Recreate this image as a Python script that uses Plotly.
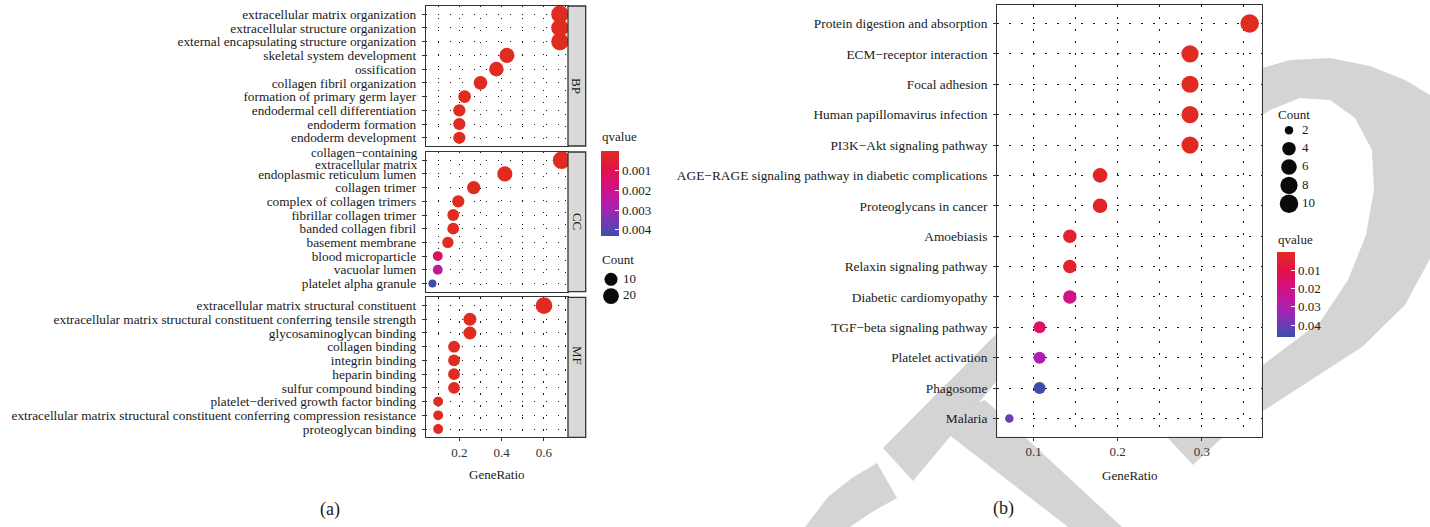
import plotly.graph_objects as go
import numpy as np

W, H = 1430, 527
FONT = "Liberation Serif"

# ---------------- data: GO (panel a) ----------------
bp_terms = ["extracellular matrix organization", "extracellular structure organization",
            "external encapsulating structure organization", "skeletal system development",
            "ossification", "collagen fibril organization", "formation of primary germ layer",
            "endodermal cell differentiation", "endoderm formation", "endoderm development"]
bp_ratio = [0.675, 0.675, 0.675, 0.425, 0.375, 0.300, 0.225, 0.200, 0.200, 0.200]
bp_count = [27, 27, 27, 17, 15, 12, 9, 8, 8, 8]
bp_q = [1.2e-20, 1.2e-20, 1.2e-20, 3.5e-10, 2.1e-9, 1.4e-8, 5.0e-7, 2.3e-6, 2.3e-6, 2.3e-6]

cc_terms = ["collagen\u2212containing<br>extracellular matrix", "endoplasmic reticulum lumen",
            "collagen trimer", "complex of collagen trimers", "fibrillar collagen trimer",
            "banded collagen fibril", "basement membrane", "blood microparticle",
            "vacuolar lumen", "platelet alpha granule"]
cc_ratio = [0.683, 0.415, 0.268, 0.195, 0.171, 0.171, 0.146, 0.098, 0.098, 0.073]
cc_count = [28, 17, 11, 8, 7, 7, 6, 4, 4, 3]
cc_q = [1e-22, 2e-12, 1e-11, 3e-10, 4e-9, 4e-9, 2e-6, 1.3e-3, 2.4e-3, 4.3e-3]

mf_terms = ["extracellular matrix structural constituent",
            "extracellular matrix structural constituent conferring tensile strength",
            "glycosaminoglycan binding", "collagen binding", "integrin binding", "heparin binding",
            "sulfur compound binding", "platelet\u2212derived growth factor binding",
            "extracellular matrix structural constituent conferring compression resistance",
            "proteoglycan binding"]
mf_ratio = [0.600, 0.250, 0.250, 0.175, 0.175, 0.175, 0.175, 0.100, 0.100, 0.100]
mf_count = [24, 10, 10, 7, 7, 7, 7, 4, 4, 4]
mf_q = [1e-24, 1e-14, 1e-9, 1e-7, 2e-6, 1e-5, 1e-5, 5e-5, 5e-5, 6e-5]

facet_labels = ["BP", "CC", "MF"]
left_q_ticks = [0.001, 0.002, 0.003, 0.004]
left_count_legend = [10, 20]

# ---------------- data: KEGG (panel b) ----------------
kegg_terms = ["Protein digestion and absorption", "ECM\u2212receptor interaction", "Focal adhesion",
              "Human papillomavirus infection", "PI3K\u2212Akt signaling pathway",
              "AGE\u2212RAGE signaling pathway in diabetic complications", "Proteoglycans in cancer",
              "Amoebiasis", "Relaxin signaling pathway", "Diabetic cardiomyopathy",
              "TGF\u2212beta signaling pathway", "Platelet activation", "Phagosome", "Malaria"]
kegg_ratio = [0.357, 0.286, 0.286, 0.286, 0.286, 0.179, 0.179, 0.143, 0.143, 0.143,
              0.107, 0.107, 0.107, 0.071]
kegg_count = [10, 8, 8, 8, 8, 5, 5, 4, 4, 4, 3, 3, 3, 2]
kegg_q = [2e-8, 1e-5, 4e-4, 5e-4, 8e-4, 1.8e-3, 2.6e-3, 3.5e-3, 3.0e-3, 2.1e-2,
          1.5e-2, 3.0e-2, 4.64e-2, 3.9e-2]
right_q_ticks = [0.01, 0.02, 0.03, 0.04]
right_count_legend = [2, 4, 6, 8, 10]

# ---------------- helpers ----------------
def px(x):
    return x / W

def py(y):
    return 1 - y / H

colorscale = [[0.0, "#3F4CA8"], [0.08, "#5644B2"], [0.31, "#A424B2"],
              [0.54, "#D0118C"], [0.77, "#E3104C"], [1.0, "#E02B20"]]

left_counts_all = bp_count + cc_count + mf_count
lmin, lmax = min(left_counts_all), max(left_counts_all)
rmin, rmax = min(kegg_count), max(kegg_count)

def size_left(c):
    c = np.asarray(c, float)
    return 8.0 + 9.5 * np.sqrt((c - lmin) / (lmax - lmin))

def size_right(c):
    c = np.asarray(c, float)
    return 8.5 + 10.0 * np.sqrt((c - rmin) / (rmax - rmin))

def neg(a):
    return [-v for v in a]

all_left_ratio = bp_ratio + cc_ratio + mf_ratio
lr0, lr1 = min(all_left_ratio), max(all_left_ratio)
lpad = 0.05 * (lr1 - lr0)
left_xrange = [lr0 - lpad, lr1 + lpad]
rr0, rr1 = min(kegg_ratio), max(kegg_ratio)
rpad = 0.05 * (rr1 - rr0)
right_xrange = [rr0 - rpad, rr1 + rpad]

fig = go.Figure()

panels = [(bp_terms, bp_ratio, bp_count, bp_q),
          (cc_terms, cc_ratio, cc_count, cc_q),
          (mf_terms, mf_ratio, mf_count, mf_q)]
for i, (t, r, c, q) in enumerate(panels):
    suffix = "" if i == 0 else str(i + 1)
    fig.add_trace(go.Scatter(
        x=r, y=t, mode="markers",
        marker=dict(size=size_left(c), color=neg(q), coloraxis="coloraxis",
                    line=dict(width=0), opacity=1),
        xaxis="x" + suffix, yaxis="y" + suffix, hoverinfo="skip"))

fig.add_trace(go.Scatter(
    x=kegg_ratio, y=kegg_terms, mode="markers",
    marker=dict(size=size_right(kegg_count), color=neg(kegg_q), coloraxis="coloraxis2",
                line=dict(width=0), opacity=1),
    xaxis="x4", yaxis="y4", hoverinfo="skip"))

LEGF = dict(family=FONT, size=13, color="#1a1a1a")
# size legends
lab_l = [str(v) for v in left_count_legend]
fig.add_trace(go.Scatter(x=[0.25] * len(lab_l), y=lab_l, mode="markers",
                         marker=dict(size=size_left(left_count_legend), color="#0a0a0a",
                                     line=dict(width=0), opacity=1),
                         xaxis="x5", yaxis="y5", hoverinfo="skip"))
fig.add_trace(go.Scatter(x=[0.55] * len(lab_l), y=lab_l, mode="text", text=lab_l,
                         textposition="middle right", textfont=LEGF,
                         xaxis="x5", yaxis="y5", hoverinfo="skip"))
lab_r = [str(v) for v in right_count_legend]
fig.add_trace(go.Scatter(x=[0.3] * len(lab_r), y=lab_r, mode="markers",
                         marker=dict(size=size_right(right_count_legend), color="#0a0a0a",
                                     line=dict(width=0), opacity=1),
                         xaxis="x6", yaxis="y6", hoverinfo="skip"))
fig.add_trace(go.Scatter(x=[0.625] * len(lab_r), y=lab_r, mode="text", text=lab_r,
                         textposition="middle right", textfont=LEGF,
                         xaxis="x6", yaxis="y6", hoverinfo="skip"))

DOT = "1.3px,10.7px"
GRIDC = "#1a1a1a"
LINEC = "#333333"

def xa(domain, rng, dtick, minor, show, anchor):
    return dict(domain=domain, range=rng, anchor=anchor, automargin=False, showline=True,
                mirror=True, linecolor=LINEC, linewidth=1.3, zeroline=False, showgrid=True,
                gridcolor=GRIDC, gridwidth=1, griddash=DOT, dtick=dtick, tick0=dtick,
                minor=dict(dtick=minor, tick0=minor, showgrid=True, gridcolor=GRIDC,
                           gridwidth=1, griddash=DOT),
                ticks="outside" if show else "", ticklen=3, tickcolor=LINEC,
                showticklabels=show, tickfont=dict(family=FONT, size=13, color="#333"),
                fixedrange=True)

def ya(domain, terms, size, anchor, ticktext=None):
    n = len(terms)
    return dict(domain=domain, anchor=anchor, automargin=False, type="category",
                categoryorder="array", categoryarray=terms, tickmode="array",
                tickvals=terms, ticktext=ticktext if ticktext is not None else terms,
                range=[n - 0.4, -0.6], showline=True, mirror=True,
                linecolor=LINEC, linewidth=1.3, zeroline=False, showgrid=True,
                gridcolor=GRIDC, gridwidth=1, griddash=DOT, ticks="outside", ticklen=3,
                ticklabelstandoff=3,
                tickcolor=LINEC, tickfont=dict(family=FONT, size=size, color="#1a1a1a"),
                fixedrange=True)

# multi-line CC label is drawn as separate tight lines (annotations)
cc_ticktext = ["" if "<br>" in t else t for t in cc_terms]

LX = [px(426), px(568)]
hidden = dict(visible=False, fixedrange=True, automargin=False)
fig.update_layout(
    xaxis=xa(LX, left_xrange, 0.2, 0.1, False, "y"),
    xaxis2=xa(LX, left_xrange, 0.2, 0.1, False, "y2"),
    xaxis3=xa(LX, left_xrange, 0.2, 0.1, True, "y3"),
    yaxis=ya([py(146), py(6)], bp_terms, 13.3, "x"),
    yaxis2=ya([py(291.7), py(152)], cc_terms, 13.3, "x2", cc_ticktext),
    yaxis3=ya([py(437.3), py(297.3)], mf_terms, 13.3, "x3"),
    xaxis4=xa([px(997.3), px(1261.7)], right_xrange, 0.1, 0.05, True, "y4"),
    yaxis4=ya([py(436.7), py(5.3)], kegg_terms, 13.4, "x4"),
    xaxis5=dict(domain=[px(601), px(641)], anchor="y5", range=[0, 1], **hidden),
    yaxis5=dict(domain=[py(304.4), py(271)], anchor="x5", type="category",
                categoryorder="array", categoryarray=lab_l,
                range=[len(lab_l) - 0.5, -0.5], **hidden),
    xaxis6=dict(domain=[px(1277), px(1317)], anchor="y6", range=[0, 1], **hidden),
    yaxis6=dict(domain=[py(212.9), py(121.1)], anchor="x6", type="category",
                categoryorder="array", categoryarray=lab_r,
                range=[len(lab_r) - 0.5, -0.5], **hidden),
)

all_left_q = bp_q + cc_q + mf_q
CBF = dict(family=FONT, size=13, color="#1a1a1a")
CB_LEN = 85
cb_specs = [  # (cmin, cmax, bar left x px, bar centre y px, ticks)
    (-max(all_left_q), -min(all_left_q), 601, 193.3, left_q_ticks, "{:.3f}"),
    (-max(kegg_q), -min(kegg_q), 1277, 294.3, right_q_ticks, "{:.2f}"),
]
for k, (c0, c1, bx, by, tks, fmt) in enumerate(cb_specs):
    key = "coloraxis" if k == 0 else "coloraxis2"
    fig.update_layout({key: dict(
        cmin=c0, cmax=c1, colorscale=colorscale,
        colorbar=dict(thickness=18, thicknessmode="pixels", len=CB_LEN, lenmode="pixels",
                      x=px(bx), xanchor="left", xpad=0, y=py(by), yanchor="middle",
                      ypad=0, outlinewidth=0, tickvals=neg(tks),
                      ticktext=[fmt.format(v) for v in tks], ticks="inside",
                      tickcolor="white", ticklen=4, tickwidth=1.2, tickfont=CBF))})

# ---------------- shapes: watermark, strips ----------------
def path(pts):
    return "M " + " L ".join(f"{x / W:.5f},{1 - y / H:.5f}" for x, y in pts) + " Z"

WM = "#D4D4D4"
wm_polys = [
    [(883, 448), (1017, 313), (1017, 357), (913, 481)],
    [(930, 420), (985, 400), (1122, 527), (1068, 527)],
    [(877, 463), (897, 498), (872, 512), (850, 527), (805, 527), (828, 497), (852, 478)],
    [(1255, 70), (1290, 60), (1330, 58), (1370, 66), (1405, 80), (1430, 95), (1445, 140),
     (1445, 200), (1432, 255), (1405, 305), (1362, 347), (1223, 437), (1193, 465),
     (1167, 437), (1320, 322), (1348, 280), (1366, 235), (1374, 190), (1372, 150),
     (1355, 118), (1330, 100), (1300, 98), (1270, 110), (1255, 120)],
]
shapes = []
for p in wm_polys:
    shapes.append(dict(type="path", path=path(p), xref="paper", yref="paper",
                       fillcolor=WM, line=dict(width=0), layer="below"))
# white panel background over watermark
shapes.append(dict(type="rect", xref="paper", yref="paper", x0=px(997.3), x1=px(1261.7),
                   y0=py(436.7), y1=py(5.3), fillcolor="white", line=dict(width=0),
                   layer="below"))
# white tick dashes on the left side of each colour bar (as ggplot draws them)
for c0, c1, bx, by, tks, fmt in cb_specs:
    bottom = by + CB_LEN / 2
    for v in tks:
        yy = bottom - (-v - c0) / (c1 - c0) * CB_LEN
        shapes.append(dict(type="line", xref="paper", yref="paper", x0=px(bx),
                           x1=px(bx + 4), y0=py(yy), y1=py(yy),
                           line=dict(color="white", width=1.2), layer="above"))
strip_y = [(6, 146), (152, 291.7), (297.3, 437.3)]
annotations = []
for lab, (y0, y1) in zip(facet_labels, strip_y):
    shapes.append(dict(type="rect", xref="paper", yref="paper", x0=px(568), x1=px(585.7),
                       y0=py(y1), y1=py(y0), fillcolor="#D9D9D9",
                       line=dict(color=LINEC, width=1.3), layer="above"))
    annotations.append(dict(text=lab, x=px(576.9), y=py((y0 + y1) / 2), xref="paper",
                            yref="paper", showarrow=False, textangle=90,
                            font=dict(family=FONT, size=13, color="#1a1a1a")))

# two-line CC term, tight line spacing like the reference
for t in cc_terms:
    if "<br>" in t:
        lines = t.split("<br>")
        for k, line in enumerate(lines):
            annotations.append(dict(
                text=line, x=px(420), y=t, xref="paper", yref="y2", showarrow=False,
                xanchor="right", yanchor="middle",
                yshift=1.5 + (len(lines) - 1) / 2 * 11.5 - k * 11.5,
                font=dict(family=FONT, size=13, color="#1a1a1a")))

def ann(text, x, y, size=13, xanchor="left"):
    return dict(text=text, x=px(x), y=py(y), xref="paper", yref="paper", showarrow=False,
                xanchor=xanchor, yanchor="middle", font=dict(family=FONT, size=size,
                                                             color="#1a1a1a"))

annotations += [
    ann("qvalue", 600, 136.5),
    ann("Count", 600, 259.5),
    ann("Count", 1276, 114),
    ann("qvalue", 1276, 239),
    ann("GeneRatio", 497, 474.5, 13, "center"),
    ann("GeneRatio", 1130, 475, 13, "center"),
    ann("(a)", 330, 509, 18, "center"),
    ann("(b)", 1003, 508, 18, "center"),
]

fig.update_layout(
    width=W, height=H, margin=dict(l=0, r=0, t=0, b=0, autoexpand=False),
    paper_bgcolor="white", plot_bgcolor="white", showlegend=False,
    shapes=shapes, annotations=annotations,
    font=dict(family=FONT, color="#1a1a1a"),
)

fig.write_html("out.html", config={"displayModeBar": False},
               post_script="document.body.style.margin='0';"
                           "document.body.style.overflow='hidden';")
